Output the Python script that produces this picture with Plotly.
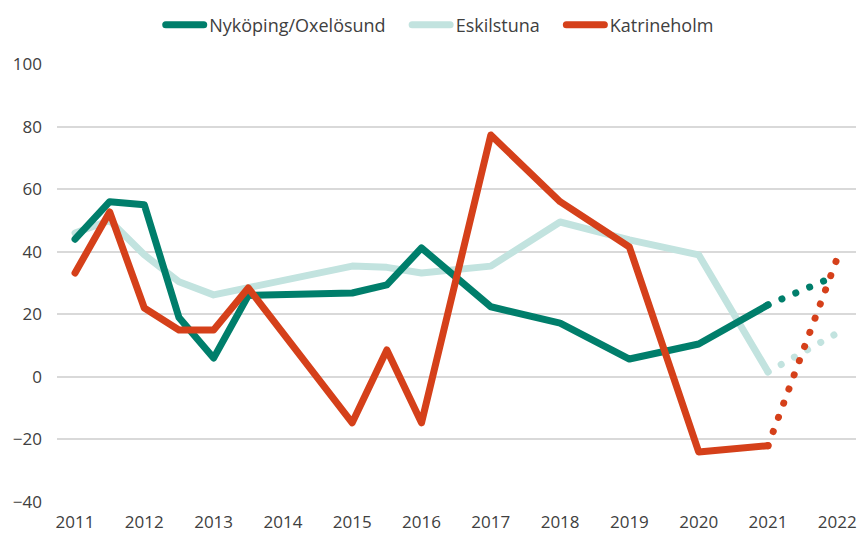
import plotly.graph_objects as go

# --- data ---
years = [2011, 2011.5, 2012, 2012.5, 2013, 2013.5, 2015, 2015.5, 2016, 2017, 2018, 2019, 2020, 2021]
nykoping = [44, 56, 55, 19, 6, 26, 26.8, 29.4, 41.2, 22.4, 17.2, 5.7, 10.5, 23]
eskilstuna = [46, 50, 39, 30.4, 26.2, 28.4, 35.4, 35, 33.2, 35.4, 49.5, 43.8, 39, 1.6]
katrineholm = [33.2, 52.7, 22, 15, 15, 28.4, -14.7, 8.6, -14.7, 77.3, 56, 41.5, -24, -22]

forecast_years = [2021, 2022]
nykoping_fc = [23, 32.5]
eskilstuna_fc = [1.6, 14]
katrineholm_fc = [-22, 38]

tick_years = list(range(2011, 2023))
y_ticks = [-40, -20, 0, 20, 40, 60, 80, 100]

names = ["Nyköping/Oxelösund", "Eskilstuna", "Katrineholm"]
colors = ["#007E6B", "#C2E3DF", "#D5401A"]

fig = go.Figure()
series = [nykoping, eskilstuna, katrineholm]
forecasts = [nykoping_fc, eskilstuna_fc, katrineholm_fc]
# draw order: light first so dark lines sit on top
order = [1, 0, 2]
for i in order:
    fig.add_trace(go.Scatter(
        x=years, y=series[i], mode="lines", name=names[i],
        line=dict(color=colors[i], width=7), legendgroup=names[i],
        legendrank=i + 1,
    ))
for i in order:
    fig.add_trace(go.Scatter(
        x=forecast_years, y=forecasts[i], mode="lines", name=names[i],
        line=dict(color=colors[i], width=7, dash="0.1px,15px"),
        legendgroup=names[i], showlegend=False,
    ))

text_color = "#404040"
fig.update_layout(
    width=861, height=533,
    margin=dict(l=57, r=5, t=64, b=31, autoexpand=False),
    paper_bgcolor="white", plot_bgcolor="white",
    font=dict(family="Open Sans", size=17, color=text_color),
    showlegend=True,
    legend=dict(orientation="h", x=0.469, xanchor="center", y=1.089, yanchor="middle",
                font=dict(size=18, color=text_color), traceorder="normal",
                itemwidth=55),
    xaxis=dict(range=[2010.74, 2022.27], tickvals=tick_years,
               ticktext=[str(y) for y in tick_years],
               tickfont=dict(color=text_color, size=17),
               showgrid=False, zeroline=False, showline=False, ticks="",
               automargin=False, ticklabelstandoff=8),
    yaxis=dict(range=[-40, 100], tickvals=y_ticks, showgrid=True,
               tickfont=dict(color=text_color, size=17),
               gridcolor="#D9D9D9", gridwidth=1.5, zeroline=True,
               zerolinecolor="#D9D9D9", zerolinewidth=1.5, showline=False,
               ticks="", ticklabelstandoff=14, automargin=False),
)

post = """
var s = document.createElement('style');
s.innerHTML = 'html, body {margin: 0; padding: 0;} ' +
  '.scatterlayer .js-line, .legend .js-line {stroke-linecap: round; stroke-linejoin: round;} ' +
  '.legend .legendlines .js-line {stroke-width: 7px !important;}';
document.head.appendChild(s);
var gd = document.getElementsByClassName('plotly-graph-div')[0];
function fixLegend() {
  var items = gd.querySelectorAll('.legend .traces');
  items.forEach(function(it) {
    var t = it.querySelector('text.legendtext');
    var p = it.querySelector('.legendlines path');
    if (!t || !p) return;
    var tx = parseFloat(t.getAttribute('x')) || 40;
    p.setAttribute('d', 'M' + (tx - 43.5) + ',0h38');
  });
}
fixLegend();
gd.on('plotly_afterplot', fixLegend);
"""
fig.write_html("out.html", post_script=post, config={"displayModeBar": False})
